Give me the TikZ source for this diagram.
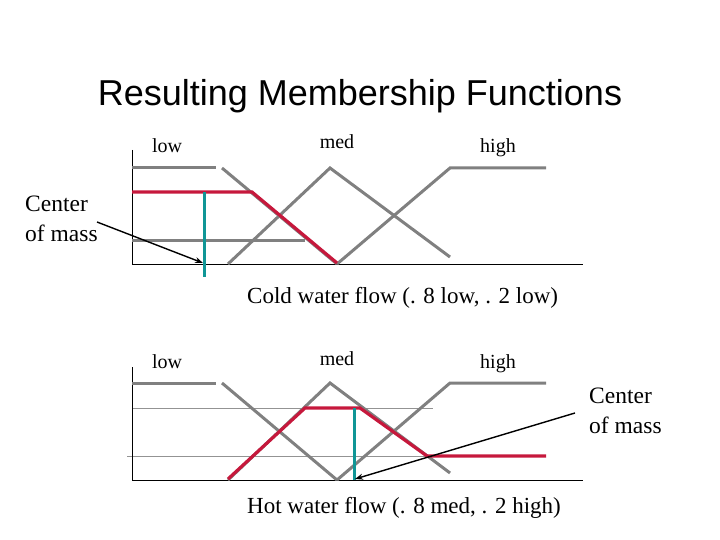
\documentclass[tikz,border=0pt]{standalone}
\usepackage{fontspec}
\setmainfont{Liberation Serif}
\newfontfamily\titlefont{Liberation Sans}
\usetikzlibrary{arrows.meta}
\definecolor{mfgray}{RGB}{128,128,128}
\definecolor{mfred}{RGB}{198,24,60}
\definecolor{mfteal}{RGB}{16,150,150}
\begin{document}
\begin{tikzpicture}[x=1pt,y=-1pt,
  axis/.style={black, line width=1pt},
  mf/.style={mfgray, line width=3pt},
  res/.style={mfred, line width=3.2pt, line join=miter},
  com/.style={mfteal, line width=3pt},
  guide/.style={mfgray!85, line width=0.8pt},
  ptr/.style={black, line width=1.4pt, -{Stealth[length=8pt,width=6pt]}},
  lbl/.style={font=\fontsize{20}{24}\selectfont, inner sep=0pt, anchor=base},
  txt/.style={font=\fontsize{23.5}{29.5}\selectfont, inner sep=0pt, align=left},
  flow/.style={font=\fontsize{23}{28}\selectfont, inner sep=0pt, anchor=base west},
]
\useasboundingbox (0,0) rectangle (720,540);
\node[font=\titlefont\fontsize{36}{40}\selectfont, inner sep=0pt] (title) at (360,96) {Resulting Membership Functions};

% ---- top chart ----
\node[lbl] (lowA) at (167,153) {low};
\node[lbl] (medA) at (337,149) {med};
\node[lbl] (highA) at (498,153) {high};
\draw[axis] (132,150) -- (132,264) -- (583,264);
\draw[mf] (132,168) -- (216,168);
\draw[mf] (222,168) -- (337,264);
\draw[mf] (228,264) -- (330,168) -- (450,257);
\draw[mf] (337,264) -- (450,168) -- (546,168);
\draw[mf] (132,240) -- (305,240);
\draw[res] (132,192) -- (252,192) -- (337,263);
\draw[com] (204,192) -- (204,277);
\node[flow] (coldA) at (247,303) {Cold water flow (. 8 low, . 2 low)};
\node[txt, anchor=north west] (comLeft) at (25,196) {Center\\of mass};
\coordinate (ptrAs) at (97,222);
\coordinate (ptrAe) at (203,263);
\draw[ptr] (ptrAs) -- (ptrAe);

% ---- bottom chart ----
\node[lbl] (lowB) at (167,368) {low};
\node[lbl] (medB) at (337,365) {med};
\node[lbl] (highB) at (498,368) {high};
\draw[guide] (132,408) -- (433,408);
\draw[guide] (127,456) -- (430,456);
\draw[axis] (132,367) -- (132,480) -- (583,480);
\draw[mf] (132,383) -- (216,383);
\draw[mf] (222,383) -- (337,480);
\draw[mf] (228,480) -- (330,383) -- (450,473);
\draw[mf] (337,480) -- (450,383) -- (546,383);
\draw[res] (228,479) -- (305,408) -- (360,408) -- (427,456) -- (546,456);
\draw[com] (354,408) -- (354,480);
\node[flow] (hotB) at (247,513) {Hot water flow (. 8 med, . 2 high)};
\node[txt, anchor=north west] (comRight) at (589,388) {Center\\of mass};
\coordinate (ptrBs) at (575,413);
\coordinate (ptrBe) at (355,479);
\draw[ptr] (ptrBs) -- (ptrBe);
\end{tikzpicture}
\end{document}
